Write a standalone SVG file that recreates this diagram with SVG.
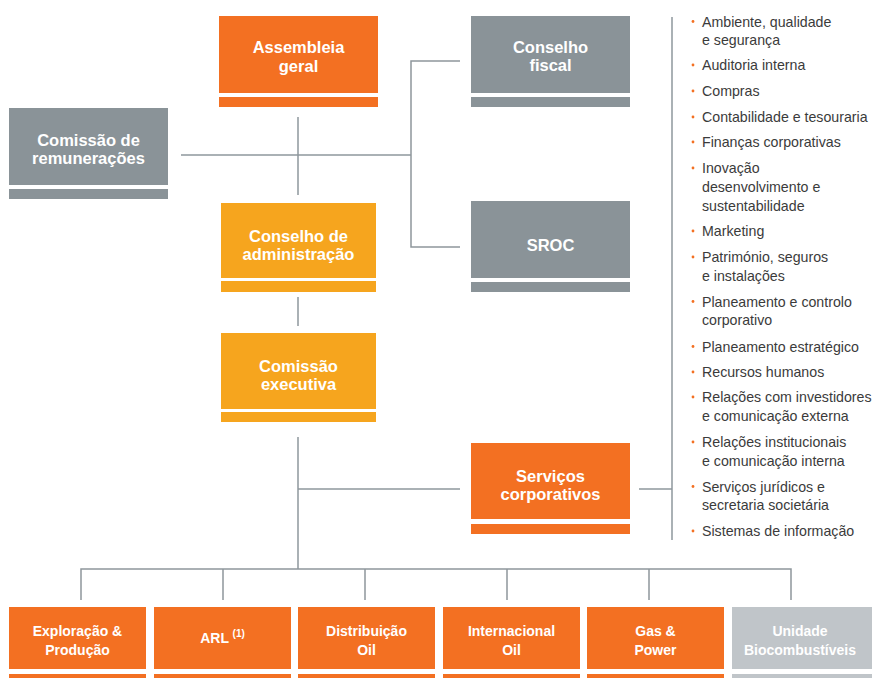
<svg xmlns="http://www.w3.org/2000/svg" width="872" height="678" viewBox="0 0 872 678">
<style>
.or{fill:#F37022}.go{fill:#F6A51E}.gr{fill:#8A9398}.lg{fill:#C0C5C9}
.t{font-family:"Liberation Sans",Arial,sans-serif;font-weight:bold;font-size:16.5px;fill:#fff;text-anchor:middle}
.tb{font-family:"Liberation Sans",Arial,sans-serif;font-weight:bold;font-size:14px;fill:#fff;text-anchor:middle}
.li{font-family:"Liberation Sans",Arial,sans-serif;font-size:14.2px;fill:#3b3b3b}
.c{stroke:#8E979C;stroke-width:1.5;fill:none}
.dot{fill:#F37022}
</style>
<rect width="872" height="678" fill="#fff"/>
<g id="connectors" class="c">
<path d="M298 117V195"/>
<path d="M181 155H411"/>
<path d="M460 61H411V247H460"/>
<path d="M298 297V326"/>
<path d="M298 437V569"/>
<path d="M298 489H460"/>
<path d="M639 489H672"/>
<path d="M672 17V540"/>
<path d="M81 600V569H791V600"/>
<path d="M223 569V600M365 569V600M507 569V600M649 569V600"/>
</g>
<g id="assembleia">
<rect class="or" x="219" y="16" width="159" height="77"/><rect class="or" x="219" y="97" width="159" height="10"/>
<text class="t" x="298.5" y="53">Assembleia</text><text class="t" x="298.5" y="72">geral</text>
</g>
<g id="remuneracoes">
<rect class="gr" x="9" y="108" width="159" height="77"/><rect class="gr" x="9" y="189" width="159" height="10"/>
<text class="t" x="88.5" y="146">Comissão de</text><text class="t" x="88.5" y="164">remunerações</text>
</g>
<g id="administracao">
<rect class="go" x="221" y="203" width="155" height="75"/><rect class="go" x="221" y="281" width="155" height="11"/>
<text class="t" x="298.5" y="242">Conselho de</text><text class="t" x="298.5" y="260">administração</text>
</g>
<g id="executiva">
<rect class="go" x="221" y="333" width="155" height="76"/><rect class="go" x="221" y="412" width="155" height="10"/>
<text class="t" x="298.5" y="372">Comissão</text><text class="t" x="298.5" y="390">executiva</text>
</g>
<g id="fiscal">
<rect class="gr" x="471" y="16" width="159" height="77"/><rect class="gr" x="471" y="97" width="159" height="10"/>
<text class="t" x="550.5" y="53">Conselho</text><text class="t" x="550.5" y="71">fiscal</text>
</g>
<g id="sroc">
<rect class="gr" x="471" y="201" width="159" height="77"/><rect class="gr" x="471" y="282" width="159" height="10"/>
<text class="t" x="550.5" y="251">SROC</text>
</g>
<g id="servicos">
<rect class="or" x="471" y="443" width="159" height="76"/><rect class="or" x="471" y="524" width="159" height="10"/>
<text class="t" x="550.5" y="482">Serviços</text><text class="t" x="550.5" y="500">corporativos</text>
</g>
<g id="lista">
<g class="dot">
<circle cx="693" cy="21.5" r="1.4"/><circle cx="693" cy="65" r="1.4"/><circle cx="693" cy="91" r="1.4"/><circle cx="693" cy="117" r="1.4"/><circle cx="693" cy="142" r="1.4"/><circle cx="693" cy="168" r="1.4"/><circle cx="693" cy="231" r="1.4"/><circle cx="693" cy="257" r="1.4"/><circle cx="693" cy="301.5" r="1.4"/><circle cx="693" cy="346.5" r="1.4"/><circle cx="693" cy="372" r="1.4"/><circle cx="693" cy="397" r="1.4"/><circle cx="693" cy="442" r="1.4"/><circle cx="693" cy="486.5" r="1.4"/><circle cx="693" cy="531" r="1.4"/>
</g>
<text class="li" x="702" y="26.5">Ambiente, qualidade</text>
<text class="li" x="702" y="45">e segurança</text>
<text class="li" x="702" y="70">Auditoria interna</text>
<text class="li" x="702" y="96">Compras</text>
<text class="li" x="702" y="122">Contabilidade e tesouraria</text>
<text class="li" x="702" y="147">Finanças corporativas</text>
<text class="li" x="702" y="173">Inovação</text>
<text class="li" x="702" y="192">desenvolvimento e</text>
<text class="li" x="702" y="211">sustentabilidade</text>
<text class="li" x="702" y="236">Marketing</text>
<text class="li" x="702" y="262">Património, seguros</text>
<text class="li" x="702" y="281">e instalações</text>
<text class="li" x="702" y="306.5">Planeamento e controlo</text>
<text class="li" x="702" y="325">corporativo</text>
<text class="li" x="702" y="351.5">Planeamento estratégico</text>
<text class="li" x="702" y="377">Recursos humanos</text>
<text class="li" x="702" y="402">Relações com investidores</text>
<text class="li" x="702" y="421">e comunicação externa</text>
<text class="li" x="702" y="447">Relações institucionais</text>
<text class="li" x="702" y="466">e comunicação interna</text>
<text class="li" x="702" y="491.5">Serviços jurídicos e</text>
<text class="li" x="702" y="510">secretaria societária</text>
<text class="li" x="702" y="536">Sistemas de informação</text>
</g>
<g id="exploracao">
<rect class="or" x="9" y="607" width="137" height="62"/><rect class="or" x="9" y="674" width="137" height="4"/>
<text class="tb" x="77.5" y="636">Exploração &amp;</text><text class="tb" x="77.5" y="654.5">Produção</text>
</g>
<g id="arl">
<rect class="or" x="154" y="607" width="137" height="62"/><rect class="or" x="154" y="674" width="137" height="4"/>
<text class="tb" x="222.5" y="643">ARL <tspan font-size="10" dy="-6">(1)</tspan></text>
</g>
<g id="distribuicao">
<rect class="or" x="298" y="607" width="137" height="62"/><rect class="or" x="298" y="674" width="137" height="4"/>
<text class="tb" x="366.5" y="636">Distribuição</text><text class="tb" x="366.5" y="654.5">Oil</text>
</g>
<g id="internacional">
<rect class="or" x="443" y="607" width="137" height="62"/><rect class="or" x="443" y="674" width="137" height="4"/>
<text class="tb" x="511.5" y="636">Internacional</text><text class="tb" x="511.5" y="654.5">Oil</text>
</g>
<g id="gas">
<rect class="or" x="587" y="607" width="137" height="62"/><rect class="or" x="587" y="674" width="137" height="4"/>
<text class="tb" x="655.5" y="636">Gas &amp;</text><text class="tb" x="655.5" y="654.5">Power</text>
</g>
<g id="biocombustiveis">
<rect class="lg" x="732" y="607" width="140" height="62"/><rect class="lg" x="732" y="674" width="140" height="4"/>
<text class="tb" x="800" y="636">Unidade</text><text class="tb" x="800" y="654.5">Biocombustíveis</text>
</g>
</svg>
